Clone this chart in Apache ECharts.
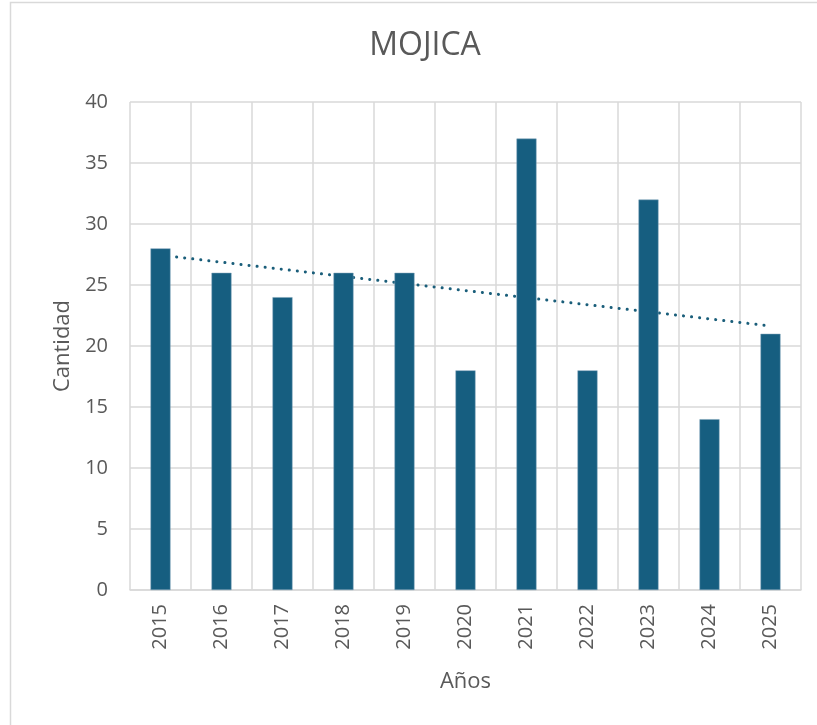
<!DOCTYPE html>
<html>
<head>
<meta charset="utf-8">
<script src="https://cdn.jsdelivr.net/npm/echarts@6/dist/echarts.min.js"></script>
<style>
  html, body { margin: 0; padding: 0; background: #fff; }
  #chart { width: 817px; height: 725px; }
</style>
</head>
<body>
<div id="chart"></div>
<script>
// datos del gráfico
var years = ['2015', '2016', '2017', '2018', '2019', '2020', '2021', '2022', '2023', '2024', '2025']
var cantidad = [28, 26, 24, 26, 26, 18, 37, 18, 32, 14, 21]
// línea de tendencia (extremos)
var tendencia = [27.45, null, null, null, null, null, null, null, null, null, 21.64]

var myChart = echarts.init(document.getElementById('chart'))
var textColor = '#595959'
var gridColor = '#d9d9d9'

var option = {
  animation: false,
  backgroundColor: '#fff',
  // marco del gráfico (sigue fuera de la imagen por abajo y por la derecha)
  graphic: [{
    type: 'rect',
    shape: { x: 10.5, y: 2.5, width: 830, height: 740 },
    style: { fill: 'none', stroke: '#d9d9d9', lineWidth: 1.5 },
    silent: true
  }],
  title: {
    text: 'MOJICA',
    left: 420,
    top: 25,
    textAlign: 'center',
    textStyle: {
      fontFamily: 'Open Sans',
      fontSize: 32,
      fontWeight: 'normal',
      color: textColor
    }
  },
  grid: {
    left: 130,
    right: 16,
    top: 102,
    bottom: 135
  },
  xAxis: {
    type: 'category',
    data: years,
    name: 'Años',
    nameLocation: 'middle',
    nameGap: 81,
    nameTextStyle: { fontFamily: 'Open Sans', fontSize: 22, color: textColor },
    axisTick: { show: false },
    axisLine: { lineStyle: { color: gridColor, width: 1.5 } },
    axisLabel: {
      rotate: 90,
      margin: 14,
      fontFamily: 'Open Sans',
      fontSize: 20,
      color: textColor
    },
    splitLine: { show: true, lineStyle: { color: gridColor, width: 1.5 } }
  },
  yAxis: {
    type: 'value',
    min: 0,
    max: 40,
    interval: 5,
    name: 'Cantidad',
    nameLocation: 'middle',
    nameGap: 55,
    nameTextStyle: { fontFamily: 'Open Sans', fontSize: 22, color: textColor },
    axisLine: { show: false },
    axisTick: { show: false },
    axisLabel: {
      margin: 22,
      fontFamily: 'Open Sans',
      fontSize: 20,
      color: textColor
    },
    splitLine: { lineStyle: { color: gridColor, width: 1.5 } }
  },
  series: [{
    name: 'Cantidad',
    type: 'bar',
    data: cantidad,
    barWidth: 20,
    z: 3,
    itemStyle: { color: '#165e80', borderColor: '#7fa3b8', borderWidth: 0.5 }
  }, {
    name: 'Tendencia',
    type: 'line',
    data: tendencia,
    connectNulls: true,
    showSymbol: false,
    z: 2,
    lineStyle: { color: '#1a5e7a', width: 3, type: [0.1, 8], cap: 'round' }
  }]
}

myChart.setOption(option)
</script>
</body>
</html>
